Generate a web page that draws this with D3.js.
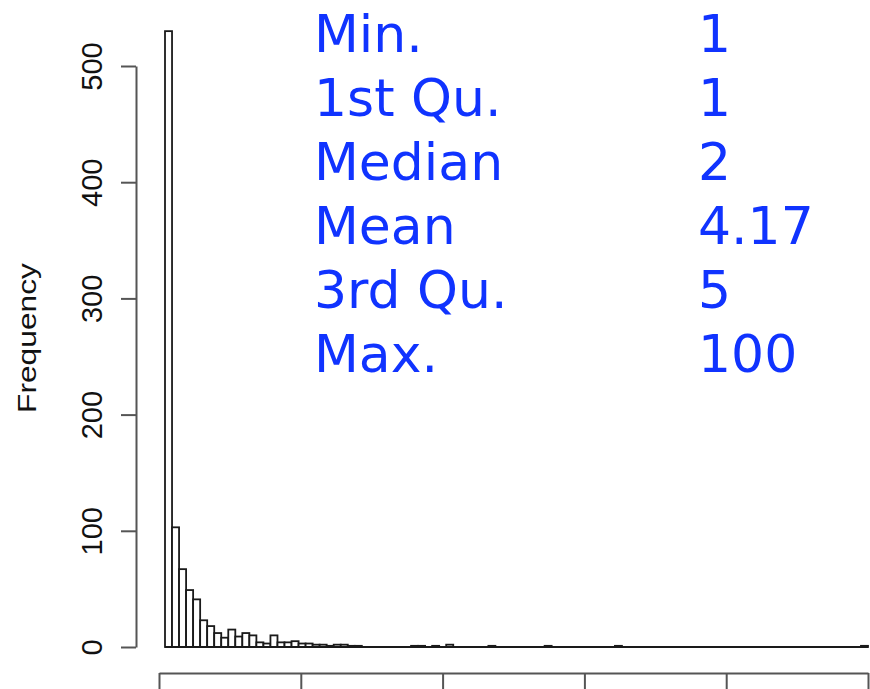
<!DOCTYPE html>
<html>
<head>
<meta charset="utf-8">
<script src="https://cdn.jsdelivr.net/npm/d3@7"></script>
<style>
  body { margin: 0; background: #fff; }
  svg { display: block; }
</style>
</head>
<body>
<svg id="chart" width="870" height="689"></svg>
<script>
// histogram counts, one bin per unit from (0,1] up to (99,100]
var counts = [
  530, 103, 67, 49, 41, 23, 18, 12, 8, 15,
  9, 12, 10, 4, 3, 10, 4, 4, 5, 3,
  3, 2, 2, 1, 2, 2, 1, 1, 0, 0,
  0, 0, 0, 0, 0, 1, 1, 0, 1, 0,
  2, 0, 0, 0, 0, 0, 1, 0, 0, 0,
  0, 0, 0, 0, 1, 0, 0, 0, 0, 0,
  0, 0, 0, 0, 1, 0, 0, 0, 0, 0,
  0, 0, 0, 0, 0, 0, 0, 0, 0, 0,
  0, 0, 0, 0, 0, 0, 0, 0, 0, 0,
  0, 0, 0, 0, 0, 0, 0, 0, 0, 1
];
var yTicks = [0, 100, 200, 300, 400, 500];
var xTicks = [0, 20, 40, 60, 80, 100];

// summary table shown top right
var statNames = ["Min.", "1st Qu.", "Median", "Mean", "3rd Qu.", "Max."];
var statValues = ["1", "1", "2", "4.17", "5", "100"];

var svg = d3.select("#chart");

var bins = counts.map(function(c, i){ return {x0: i, x1: i + 1, n: c}; });

var x = d3.scaleLinear().domain([0, 100]).range([165, 868]);
var xAxisScale = d3.scaleLinear().domain([0, 100]).range([159, 868]);
var y = d3.scaleLinear().domain([0, 500]).range([647, 66]);

// bars
svg.append("g").selectAll("rect")
  .data(bins.filter(function(d){ return d.n > 0; }))
  .enter().append("rect")
  .attr("x", function(d){ return x(d.x0); })
  .attr("y", function(d){ return y(d.n); })
  .attr("width", function(d){ return x(d.x1) - x(d.x0); })
  .attr("height", function(d){ return y(0) - y(d.n); })
  .attr("fill", "#fff")
  .attr("stroke", "#1a1a1a")
  .attr("stroke-width", 1.8);

// empty bins still leave their bottom edge, like R does
svg.append("line")
  .attr("x1", x(0)).attr("x2", x(100))
  .attr("y1", y(0)).attr("y2", y(0))
  .attr("stroke", "#1a1a1a")
  .attr("stroke-width", 2.2);

// y axis
var yAxis = svg.append("g")
  .attr("transform", "translate(136,0)")
  .call(d3.axisLeft(y).tickValues(yTicks).tickSize(15).tickSizeOuter(0));
yAxis.select(".domain").attr("stroke", "#555").attr("stroke-width", 2);
yAxis.selectAll(".tick line").attr("stroke", "#555").attr("stroke-width", 2);
yAxis.selectAll(".tick text")
  .attr("x", 0).attr("dy", 0)
  .attr("transform", "translate(-34,0) rotate(-90)")
  .attr("text-anchor", "middle")
  .attr("font-family", "Liberation Sans, Arial, sans-serif")
  .attr("font-size", 29)
  .attr("fill", "#111");

svg.append("text")
  .attr("transform", "translate(36,338) rotate(-90)")
  .attr("text-anchor", "middle")
  .attr("font-family", "Liberation Sans, Arial, sans-serif")
  .attr("font-size", 26)
  .attr("textLength", 150)
  .attr("lengthAdjust", "spacingAndGlyphs")
  .attr("fill", "#111")
  .text("Frequency");

// x axis, labels fall outside the picture
var xAxis = svg.append("g")
  .attr("transform", "translate(0,673)")
  .call(d3.axisBottom(xAxisScale).tickValues(xTicks).tickSize(18).tickSizeOuter(0));
xAxis.select(".domain").attr("stroke", "#555").attr("stroke-width", 2);
xAxis.selectAll(".tick line").attr("stroke", "#555").attr("stroke-width", 2);
xAxis.selectAll(".tick text").remove();

// summary stats
var stats = svg.append("g")
  .attr("font-family", "DejaVu Sans, Verdana, sans-serif")
  .attr("font-size", 52)
  .attr("fill", "#1033ff");

stats.selectAll("text.name")
  .data(statNames)
  .enter().append("text")
  .attr("class", "name")
  .attr("x", 314)
  .attr("y", function(d, i){ return 52 + i * 64; })
  .text(function(d){ return d; });

stats.selectAll("text.val")
  .data(statValues)
  .enter().append("text")
  .attr("class", "val")
  .attr("x", 698)
  .attr("y", function(d, i){ return 52 + i * 64; })
  .text(function(d){ return d; });
</script>
</body>
</html>
